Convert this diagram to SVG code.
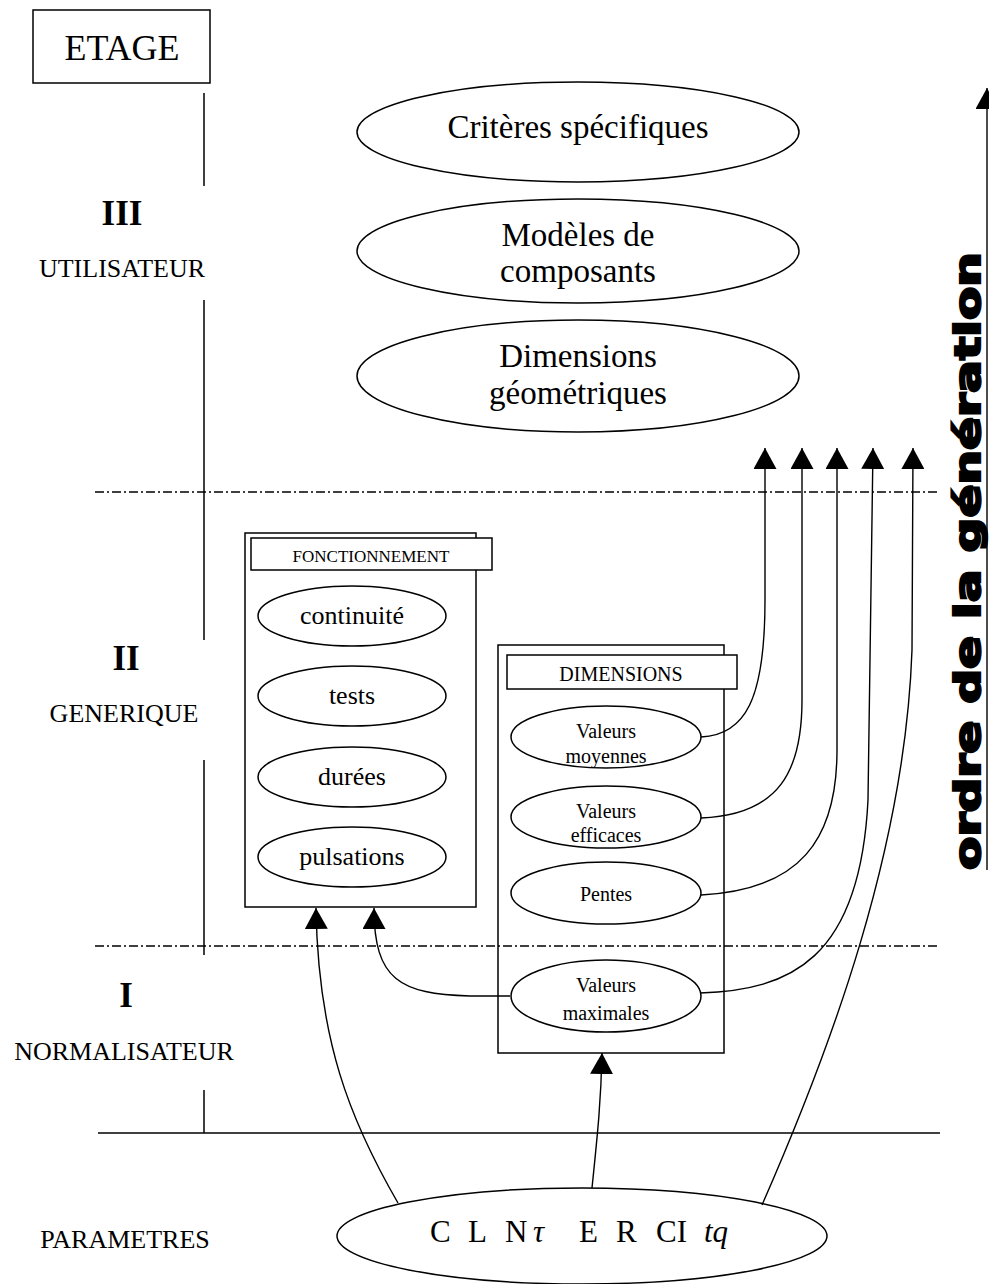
<svg xmlns="http://www.w3.org/2000/svg" width="989" height="1284" viewBox="0 0 989 1284">
<defs>
<style>
.s{fill:none;stroke:#000;stroke-width:1.5}
.w{fill:#fff;stroke:#000;stroke-width:1.5}
.c{fill:none;stroke:#000;stroke-width:1.4}
.dd{fill:none;stroke:#000;stroke-width:1.3;stroke-dasharray:9,3,2,3}
.t{font-family:"Liberation Serif","Times New Roman",serif;fill:#000;text-anchor:middle}
.lab{font-size:26px}
.big{font-size:33px}
.mid{font-size:26px}
.sm{font-size:20px}
</style>
<marker id="ah" viewBox="0 0 20 20" refX="20" refY="10" markerWidth="21" markerHeight="23" markerUnits="userSpaceOnUse" orient="auto" preserveAspectRatio="none">
<path d="M0,0 L20,10 L0,20 z" fill="#000"/>
</marker>
</defs>
<rect width="989" height="1284" fill="#fff"/>

<g id="axis">
<rect x="33" y="10" width="177" height="73" class="s"/>
<text x="122" y="60" class="t" style="font-size:36px">ETAGE</text>
<path class="s" d="M204,93 V186 M204,300 V640 M204,760 V955 M204,1090 V1133"/>
<text x="122" y="225" class="t" style="font-size:35px;font-weight:bold">III</text>
<text x="122" y="277" class="t lab">UTILISATEUR</text>
<text x="126" y="670" class="t" style="font-size:35px;font-weight:bold">II</text>
<text x="124" y="722" class="t lab">GENERIQUE</text>
<text x="126" y="1007" class="t" style="font-size:35px;font-weight:bold">I</text>
<text x="124" y="1060" class="t lab">NORMALISATEUR</text>
<text x="125" y="1248" class="t lab">PARAMETRES</text>
<path class="dd" d="M95,492 H940 M95,946 H940"/>
<path class="s" d="M98,1133 H940"/>
</g>

<g id="criteres">
<ellipse cx="578" cy="132" rx="221" ry="50" class="s"/>
<text x="578" y="138" class="t big">Critères spécifiques</text>
</g>
<g id="modeles">
<ellipse cx="578" cy="251" rx="221" ry="52" class="s"/>
<text x="578" y="246" class="t big">Modèles de</text>
<text x="578" y="282" class="t big">composants</text>
</g>
<g id="dimgeo">
<ellipse cx="578" cy="376" rx="221" ry="56" class="s"/>
<text x="578" y="367" class="t big">Dimensions</text>
<text x="578" y="404" class="t big">géométriques</text>
</g>

<g id="fonctionnement">
<rect x="245" y="533" width="231" height="374" class="s"/>
<rect x="251" y="538" width="241" height="32" class="w"/>
<text x="371" y="562" class="t" style="font-size:17px">FONCTIONNEMENT</text>
<ellipse cx="352" cy="616" rx="94" ry="30" class="s"/>
<text x="352" y="624" class="t mid">continuité</text>
<ellipse cx="352" cy="696" rx="94" ry="30" class="s"/>
<text x="352" y="704" class="t mid">tests</text>
<ellipse cx="352" cy="777" rx="94" ry="30" class="s"/>
<text x="352" y="785" class="t mid">durées</text>
<ellipse cx="352" cy="857" rx="94" ry="30" class="s"/>
<text x="352" y="865" class="t mid">pulsations</text>
</g>

<g id="dimensions">
<rect x="498" y="645" width="226" height="408" class="s"/>
<rect x="507" y="655" width="230" height="34" class="w"/>
<text x="621" y="681" class="t" style="font-size:20px">DIMENSIONS</text>
<ellipse cx="606" cy="737" rx="95" ry="31" class="s"/>
<text x="606" y="738" class="t sm">Valeurs</text>
<text x="606" y="763" class="t sm">moyennes</text>
<ellipse cx="606" cy="817" rx="95" ry="31" class="s"/>
<text x="606" y="818" class="t sm">Valeurs</text>
<text x="606" y="842" class="t sm">efficaces</text>
<ellipse cx="606" cy="893" rx="95" ry="31" class="s"/>
<text x="606" y="901" class="t sm">Pentes</text>
<ellipse cx="606" cy="996" rx="95" ry="36" class="s"/>
<text x="606" y="992" class="t sm">Valeurs</text>
<text x="606" y="1020" class="t sm">maximales</text>
</g>

<g id="parametres">
<ellipse cx="582" cy="1236" rx="245" ry="48" class="s"/>
<text y="1242" class="t" style="font-size:31px;text-anchor:start"><tspan x="430">C</tspan><tspan x="468">L</tspan><tspan x="505">N</tspan><tspan x="533" font-style="italic">τ</tspan><tspan x="579">E</tspan><tspan x="616">R</tspan><tspan x="656">CI</tspan><tspan x="704" font-style="italic">tq</tspan></text>
</g>

<g id="ordre">
<text transform="translate(980,870) rotate(-90)" x="0" y="0" textLength="618" lengthAdjust="spacingAndGlyphs" style="font-family:'DejaVu Sans','Liberation Sans',sans-serif;font-weight:bold;font-size:36px;fill:#000;stroke:#000;stroke-width:2.2">ordre de la génération</text>
</g>

<g id="connectors">
<path class="c" d="M987,870 V88" marker-end="url(#ah)"/>
<path class="c" d="M398,1203 C350,1120 318,1040 316,908" marker-end="url(#ah)"/>
<path class="c" d="M510,996 L470,996 C400,994 374,980 374,908" marker-end="url(#ah)"/>
<path class="c" d="M592,1188 C598,1130 601,1100 602,1053" marker-end="url(#ah)"/>
<path class="c" d="M701,737 C745,735 765,700 765,600 L765,448" marker-end="url(#ah)"/>
<path class="c" d="M701,818 C780,815 802,770 802,700 L802,448" marker-end="url(#ah)"/>
<path class="c" d="M701,895 C800,890 837,840 837,750 L837,448" marker-end="url(#ah)"/>
<path class="c" d="M700,993 C790,990 860,960 868,800 L873,448" marker-end="url(#ah)"/>
<path class="c" d="M762,1205 C830,1050 905,850 912,650 L913,448" marker-end="url(#ah)"/>
</g>
</svg>
